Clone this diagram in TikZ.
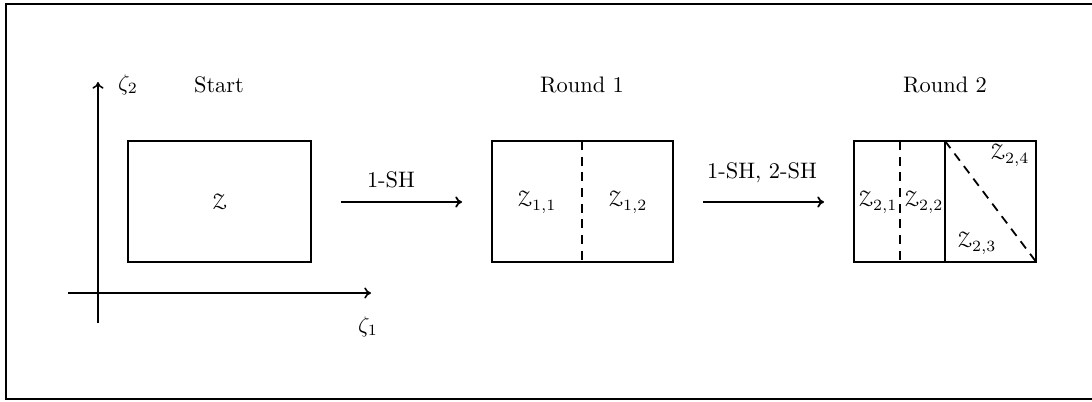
\documentclass[tikz,border=0pt]{standalone}
\usepackage[mathscr]{eucal}
\usetikzlibrary{arrows.meta}
\begin{document}
\begin{tikzpicture}[x=0.446pt,y=-0.446pt,
  box/.style={draw,line width=0.8pt},
  divdash/.style={line width=0.8pt,dash pattern=on 4pt off 3pt},
  ax/.style={line width=0.7pt,-{To[length=3pt,width=5pt]}},
  flow/.style={line width=0.8pt,-{To[length=3pt,width=5pt]}},
  lbl/.style={inner sep=1pt}]
\useasboundingbox (0,0) rectangle (1092,401);
\draw[line width=1pt] (1093,4) -- (6,4) -- (6,399) -- (1093,399);
% axes
\coordinate (y0) at (98,323);
\coordinate (y1) at (98,82);
\coordinate (x0) at (68,293);
\coordinate (x1) at (371,293);
\draw[ax] (y0) -- (y1);
\draw[ax] (x0) -- (x1);
\node[lbl] (z2) at (128,85) {$\zeta_2$};
\node[lbl] (z1) at (368,327) {$\zeta_1$};
% titles
\node[lbl] (t0) at (219,85) {Start};
\node[lbl] (t1) at (582,85) {Round 1};
\node[lbl] (t2) at (945,85) {Round 2};
% boxes
\node[box,minimum width=183*0.446pt,minimum height=121*0.446pt,inner sep=0pt] (b0) at (219.5,201.5) {$\mathscr{Z}$};
\node[box,minimum width=181*0.446pt,minimum height=121*0.446pt,inner sep=0pt] (b1) at (582.5,201.5) {};
\node[box,minimum width=182*0.446pt,minimum height=121*0.446pt,inner sep=0pt] (b2) at (945,201.5) {};
% round 1
\coordinate (d1t) at (582,141);
\coordinate (d1b) at (582,262);
\draw[divdash] (d1t) -- (d1b);
\node[lbl] (z11) at (537,202) {$\mathscr{Z}_{1,1}$};
\node[lbl] (z12) at (628,202) {$\mathscr{Z}_{1,2}$};
% round 2
\coordinate (d2t) at (900,141);
\coordinate (d2b) at (900,262);
\coordinate (s2t) at (945,141);
\coordinate (s2b) at (945,262);
\draw[divdash] (d2t) -- (d2b);
\draw[line width=0.8pt] (s2t) -- (s2b);
\draw[divdash] (s2t) -- (b2.south east);
\node[lbl] (z21) at (878,202) {$\mathscr{Z}_{2,1}$};
\node[lbl] (z22) at (924,202) {$\mathscr{Z}_{2,2}$};
\node[lbl] (z24) at (1010,155) {$\mathscr{Z}_{2,4}$};
\node[lbl] (z23) at (977,243) {$\mathscr{Z}_{2,3}$};
% arrows
\coordinate (a1s) at (341,202);
\coordinate (a1e) at (462,202);
\coordinate (a2s) at (703,202);
\coordinate (a2e) at (824,202);
\draw[flow] (a1s) -- (a1e);
\draw[flow] (a2s) -- (a2e);
\node[lbl] (l1) at (391,180) {1-SH};
\node[lbl] (l2) at (762,173) {1-SH, 2-SH};
\end{tikzpicture}
\end{document}
